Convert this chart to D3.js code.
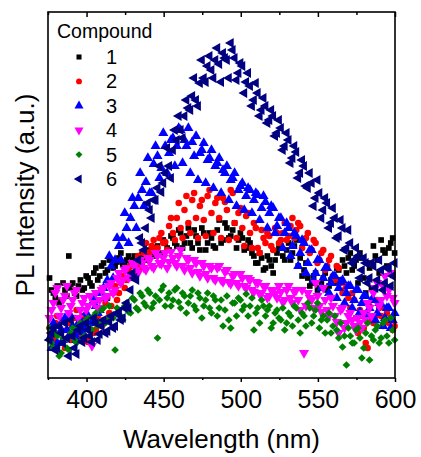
<!DOCTYPE html>
<html>
<head>
<meta charset="utf-8">
<script src="https://cdn.jsdelivr.net/npm/d3@7"></script>
<style>
  body { margin: 0; background: #fff; }
  svg { display: block; font-family: Arial, "Liberation Sans", sans-serif; }
</style>
</head>
<body>
<svg id="chart"></svg>
<script>
// sampled wavelengths (nm), two interleaved scans
const wavelengthA = [376, 378.5, 381, 383.5, 386, 388.5, 391, 393.5, 396, 398.5,
  401, 403.5, 406, 408.5, 411, 413.5, 416, 418.5, 421, 423.5,
  426, 428.5, 431, 433.5, 436, 438.5, 441, 443.5, 446, 448.5,
  451, 453.5, 456, 458.5, 461, 463.5, 466, 468.5, 471, 473.5,
  476, 478.5, 481, 483.5, 486, 488.5, 491, 493.5, 496, 498.5,
  501, 503.5, 506, 508.5, 511, 513.5, 516, 518.5, 521, 523.5,
  526, 528.5, 531, 533.5, 536, 538.5, 541, 543.5, 546, 548.5,
  551, 553.5, 556, 558.5, 561, 563.5, 566, 568.5, 571, 573.5,
  576, 578.5, 581, 583.5, 586, 588.5, 591, 593.5, 596, 598.5];
const wavelengthB = [377.25, 379.75, 382.25, 384.75, 387.25, 389.75, 392.25, 394.75, 397.25, 399.75,
  402.25, 404.75, 407.25, 409.75, 412.25, 414.75, 417.25, 419.75, 422.25, 424.75,
  427.25, 429.75, 432.25, 434.75, 437.25, 439.75, 442.25, 444.75, 447.25, 449.75,
  452.25, 454.75, 457.25, 459.75, 462.25, 464.75, 467.25, 469.75, 472.25, 474.75,
  477.25, 479.75, 482.25, 484.75, 487.25, 489.75, 492.25, 494.75, 497.25, 499.75,
  502.25, 504.75, 507.25, 509.75, 512.25, 514.75, 517.25, 519.75, 522.25, 524.75,
  527.25, 529.75, 532.25, 534.75, 537.25, 539.75, 542.25, 544.75, 547.25, 549.75,
  552.25, 554.75, 557.25, 559.75, 562.25, 564.75, 567.25, 569.75, 572.25, 574.75,
  577.25, 579.75, 582.25, 584.75, 587.25, 589.75, 592.25, 594.75, 597.25, 599.75];

// PL intensity (a.u.) -- scan A
const compound1 = [100, 85, 92, 78, 88, 122, 95, 82, 98, 90,
  100, 92, 110, 102, 115, 108, 118, 112, 120, 114,
  118, 112, 122, 116, 124, 118, 128, 122, 132, 125,
  135, 128, 140, 132, 145, 135, 150, 130, 142, 128,
  145, 135, 140, 130, 158, 138, 150, 142, 155, 138,
  140, 130, 135, 122, 115, 120, 110, 118, 105, 125,
  132, 118, 135, 125, 138, 120, 108, 100, 95, 105,
  90, 100, 88, 98, 95, 108, 118, 105, 125, 112,
  95, 120, 85, 110, 132, 118, 138, 125, 130, 140];
const compound2 = [50, 38, 62, 45, 30, 55, 42, 68, 40, 52,
  36, 60, 48, 70, 58, 80, 72, 92, 85, 102,
  98, 112, 105, 122, 115, 135, 126, 138, 130, 145,
  136, 152, 145, 160, 150, 168, 155, 178, 160, 172,
  158, 182, 165, 175, 160, 180, 168, 188, 155, 165,
  150, 162, 145, 155, 130, 148, 135, 142, 128, 145,
  138, 155, 142, 160, 148, 152, 135, 145, 128, 135,
  118, 128, 112, 122, 98, 110, 85, 92, 70, 78,
  45, 62, 35, 72, 55, 78, 62, 70, 55, 48];
const compound3 = [40, 55, 35, 48, 60, 42, 52, 38, 58, 50,
  62, 55, 72, 68, 90, 98, 112, 118, 132, 140,
  150, 160, 172, 180, 188, 196, 185, 214, 222, 210,
  232, 225, 240, 232, 248, 238, 250, 236, 242, 225,
  235, 218, 228, 212, 220, 208, 212, 198, 205, 188,
  195, 182, 188, 178, 183, 170, 176, 165, 170, 152,
  160, 145, 150, 132, 142, 125, 135, 115, 128, 105,
  118, 100, 110, 95, 102, 90, 98, 85, 92, 78,
  88, 75, 82, 70, 78, 65, 74, 60, 70, 58];
const compound4 = [60, 75, 90, 70, 82, 65, 78, 88, 68, 80,
  72, 32, 85, 78, 90, 82, 95, 88, 105, 98,
  110, 102, 112, 105, 115, 108, 118, 110, 122, 114,
  125, 116, 120, 112, 128, 108, 118, 105, 115, 102,
  112, 100, 110, 98, 112, 96, 108, 94, 104, 92,
  100, 90, 98, 86, 95, 85, 92, 82, 88, 80,
  86, 78, 92, 75, 88, 68, 25, 85, 78, 95,
  72, 90, 68, 80, 62, 45, 70, 55, 65, 52,
  60, 50, 58, 70, 85, 95, 78, 102, 88, 80];
const compound5 = [50, 30, 42, 25, 38, 28, 50, 35, 55, 42,
  60, 48, 65, 55, 70, 58, 62, 28, 68, 58,
  75, 65, 78, 68, 82, 72, 85, 75, 40, 88,
  72, 85, 78, 90, 70, 82, 75, 88, 68, 80,
  72, 85, 65, 78, 70, 52, 82, 50, 75, 80,
  68, 84, 72, 48, 70, 78, 62, 72, 55, 68,
  58, 48, 65, 52, 70, 45, 62, 75, 55, 68,
  50, 62, 58, 45, 62, 40, 31, 13, 42, 35,
  50, 20, 45, 18, 38, 52, 40, 58, 35, 48];
const compound6 = [38, 50, 30, 45, 55, 22, 42, 24, 52, 40,
  48, 36, 55, 44, 58, 47, 62, 52, 66, 60,
  75, 88, 100, 118, 135, 150, 168, 178, 190, 186,
  205, 212, 228, 238, 248, 262, 270, 282, 278, 295,
  300, 312, 308, 318, 314, 325, 318, 335, 320, 305,
  312, 296, 292, 278, 285, 268, 272, 258, 262, 245,
  250, 232, 238, 220, 226, 205, 212, 190, 195, 180,
  185, 168, 175, 155, 160, 142, 150, 130, 135, 118,
  122, 108, 115, 100, 112, 98, 108, 95, 110, 102];

// PL intensity (a.u.) -- scan B
const compound1b = [88, 80, 75, 95, 82, 90, 85, 92, 88, 102,
  95, 105, 98, 112, 105, 118, 110, 116, 125, 115,
  122, 118, 115, 122, 120, 126, 124, 130, 125, 138,
  130, 142, 135, 148, 130, 142, 135, 148, 135, 150,
  128, 145, 132, 148, 135, 155, 140, 148, 130, 145,
  128, 138, 125, 115, 125, 108, 122, 112, 118, 130,
  122, 128, 118, 132, 112, 102, 115, 92, 102, 88,
  95, 105, 92, 100, 110, 98, 112, 120, 108, 118,
  125, 100, 115, 90, 122, 105, 128, 112, 135, 125];
const compound2b = [42, 55, 35, 58, 48, 38, 60, 45, 62, 40,
  55, 45, 62, 52, 75, 65, 85, 78, 95, 90,
  108, 100, 115, 110, 125, 120, 132, 128, 140, 135,
  128, 160, 138, 175, 140, 182, 145, 185, 140, 178,
  142, 188, 145, 180, 140, 176, 138, 185, 140, 170,
  132, 165, 130, 150, 125, 140, 145, 132, 150, 135,
  145, 138, 152, 140, 155, 130, 140, 125, 138, 115,
  125, 108, 118, 102, 112, 95, 88, 80, 85, 60,
  68, 50, 30, 58, 62, 70, 52, 65, 60, 52];
const compound3b = [30, 45, 52, 38, 48, 62, 44, 55, 46, 65,
  58, 78, 65, 85, 80, 122, 100, 140, 118, 165,
  135, 180, 150, 205, 172, 220, 185, 232, 200, 245,
  205, 238, 212, 250, 215, 232, 205, 222, 198, 228,
  195, 220, 190, 215, 185, 205, 178, 200, 172, 192,
  168, 190, 165, 185, 158, 182, 150, 172, 145, 160,
  130, 155, 122, 145, 112, 138, 105, 128, 98, 118,
  90, 110, 85, 102, 80, 96, 75, 92, 70, 88,
  66, 82, 62, 78, 58, 75, 52, 70, 50, 65];
const compound4b = [68, 85, 62, 78, 92, 72, 85, 60, 75, 68,
  82, 75, 70, 88, 80, 92, 85, 100, 95, 108,
  100, 115, 108, 118, 110, 120, 112, 125, 115, 120,
  110, 126, 115, 122, 112, 120, 110, 118, 106, 115,
  104, 112, 100, 110, 98, 106, 96, 102, 95, 104,
  92, 100, 88, 96, 84, 92, 80, 88, 84, 92,
  76, 88, 80, 86, 78, 88, 72, 80, 70, 82,
  66, 78, 62, 72, 56, 68, 50, 62, 58, 48,
  55, 65, 75, 62, 90, 72, 92, 82, 105, 75];
const compound5b = [35, 45, 22, 40, 30, 45, 38, 52, 40, 58,
  50, 62, 52, 68, 55, 72, 60, 70, 62, 72,
  66, 80, 70, 85, 75, 88, 70, 82, 78, 92,
  80, 72, 88, 76, 85, 65, 82, 72, 85, 60,
  78, 70, 82, 62, 78, 68, 58, 75, 62, 78,
  72, 62, 80, 65, 55, 72, 68, 50, 65, 60,
  70, 55, 62, 72, 58, 65, 52, 70, 62, 75,
  58, 45, 65, 52, 48, 55, 42, 50, 35, 48,
  40, 30, 55, 42, 48, 35, 55, 42, 60, 38];
const compound6b = [45, 28, 52, 35, 40, 58, 30, 48, 36, 55,
  42, 60, 38, 52, 45, 56, 50, 64, 58, 70,
  70, 105, 98, 140, 128, 175, 160, 178, 212, 195,
  230, 200, 248, 262, 240, 278, 268, 300, 272, 318,
  296, 322, 300, 330, 296, 320, 300, 328, 298, 315,
  285, 305, 272, 295, 262, 280, 255, 268, 242, 258,
  228, 245, 215, 232, 200, 218, 192, 205, 172, 198,
  160, 180, 150, 170, 140, 158, 128, 148, 115, 130,
  100, 120, 95, 115, 90, 118, 88, 110, 92, 115];

const compoundNames = ["1", "2", "3", "4", "5", "6"];
const scanA = [compound1, compound2, compound3, compound4, compound5, compound6];
const scanB = [compound1b, compound2b, compound3b, compound4b, compound5b, compound6b];
const majorTicks = [400, 450, 500, 550, 600];
const minorTicks = [375, 425, 475, 525, 575];

// marker style per compound
const markers = [
  { shape: d3.symbolSquare,   size: 32, rotate: 0,   color: "#000000" },
  { shape: d3.symbolCircle,   size: 34, rotate: 0,   color: "#ff0000" },
  { shape: d3.symbolTriangle, size: 44, rotate: 0,   color: "#0000ff" },
  { shape: d3.symbolTriangle, size: 44, rotate: 180, color: "#ff00ff" },
  { shape: d3.symbolSquare,   size: 30, rotate: 45,  color: "#008000" },
  { shape: d3.symbolTriangle, size: 44, rotate: -90, color: "#000080" }
];

const svgWidth = 421, svgHeight = 457;
const margin = { top: 12, right: 26, bottom: 79, left: 48 };
const width = svgWidth - margin.left - margin.right,
  height = svgHeight - margin.top - margin.bottom;

const svg = d3.select("#chart")
  .attr("width", svgWidth)
  .attr("height", svgHeight);

const g = svg.append("g")
  .attr("transform", "translate(" + margin.left + "," + margin.top + ")");

const x = d3.scaleLinear().domain([375, 600]).range([0, width]);
const y = d3.scaleLinear().domain([0, 366]).range([height, 0]);

// points, both scans of each compound
compoundNames.forEach((name, i) => {
  const m = markers[i];
  const sym = d3.symbol().type(m.shape).size(m.size);
  const pts = scanA[i].map((v, j) => [wavelengthA[j], v])
    .concat(scanB[i].map((v, j) => [wavelengthB[j], v]));
  g.append("g")
    .selectAll("path")
    .data(pts)
    .enter()
    .append("path")
    .attr("d", sym)
    .attr("transform", d => "translate(" + x(d[0]) + "," + y(d[1]) + ") rotate(" + m.rotate + ")")
    .attr("fill", m.color);
});

// bottom axis, ticks outward
const bottomAxis = g.append("g").attr("transform", "translate(0," + height + ")");
bottomAxis.append("g")
  .call(d3.axisBottom(x).tickValues(minorTicks).tickSize(2).tickFormat(""));
bottomAxis.append("g")
  .call(d3.axisBottom(x).tickValues(majorTicks).tickSize(4).tickFormat(d3.format("d")))
  .selectAll("text")
  .attr("y", 30)
  .attr("dy", 0)
  .style("font-size", "25px")
  .style("font-family", "Arial, 'Liberation Sans', sans-serif")
  .attr("fill", "#000");

// top axis, ticks inward
const topAxis = g.append("g");
topAxis.append("g")
  .call(d3.axisTop(x).tickValues(minorTicks).tickSize(-3).tickFormat(""));
topAxis.append("g")
  .call(d3.axisTop(x).tickValues(majorTicks).tickSize(-5).tickFormat(""));

svg.selectAll(".domain").remove();
svg.selectAll(".tick line").attr("stroke", "#000").attr("stroke-width", 1.5);

// frame
g.append("rect")
  .attr("width", width)
  .attr("height", height)
  .attr("fill", "none")
  .attr("stroke", "#000")
  .attr("stroke-width", 1.6);

// axis titles
svg.append("text")
  .attr("x", margin.left + width / 2)
  .attr("y", 448)
  .attr("text-anchor", "middle")
  .style("font-size", "26px")
  .text("Wavelength (nm)");

svg.append("text")
  .attr("transform", "translate(34," + (margin.top + height / 2) + ") rotate(-90)")
  .attr("text-anchor", "middle")
  .style("font-size", "26px")
  .text("PL Intensity (a.u.)");

// legend
const legend = svg.append("g");
legend.append("text")
  .attr("x", 57)
  .attr("y", 38)
  .style("font-size", "19.5px")
  .text("Compound");

compoundNames.forEach((name, i) => {
  const m = markers[i];
  const ly = 57 + i * 24.4;
  legend.append("path")
    .attr("d", d3.symbol().type(m.shape).size(m.size * 0.8)())
    .attr("transform", "translate(79," + ly + ") rotate(" + m.rotate + ")")
    .attr("fill", m.color);
  legend.append("text")
    .attr("x", 106)
    .attr("y", ly + 7)
    .style("font-size", "20px")
    .text(name);
});
</script>
</body>
</html>
